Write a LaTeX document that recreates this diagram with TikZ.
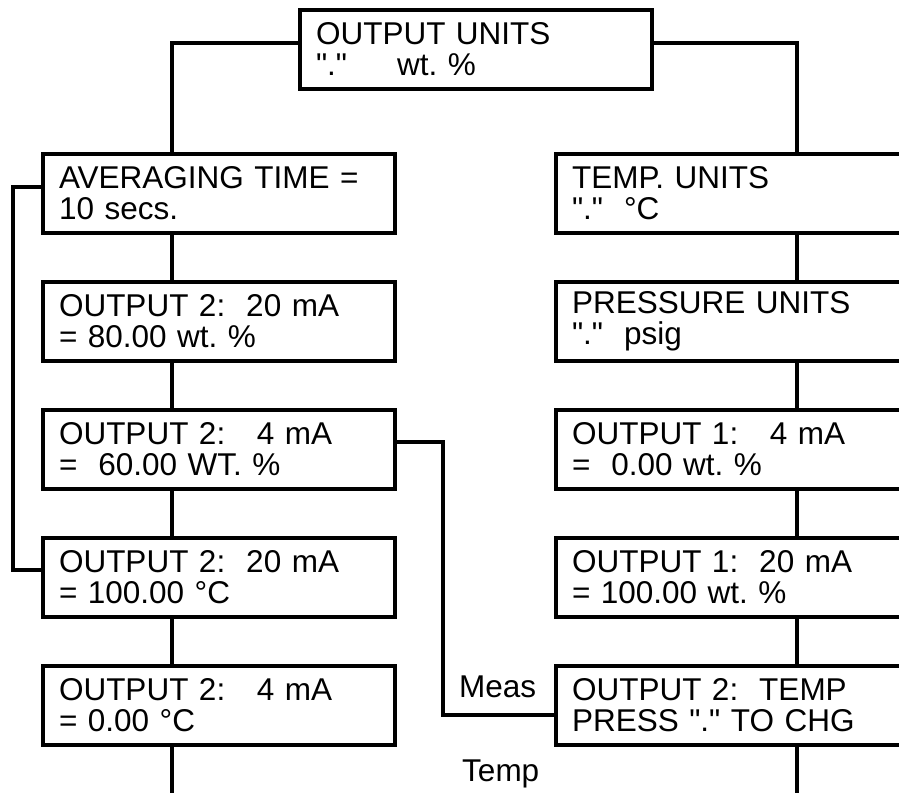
\documentclass[tikz,border=0pt]{standalone}
\usepackage{fontspec}
\setmainfont{Liberation Sans}[Ligatures=TeXOff]
\usetikzlibrary{positioning}
\frenchspacing

\begin{document}
\begin{tikzpicture}[x=1pt,y=-1pt,
        node distance=49pt,
        box/.style={draw,line width=4.2pt,text width=320pt,inner xsep=16pt,
          inner ysep=0pt,minimum height=79pt,align=left,outer sep=0pt,
          font=\fontsize{31.5pt}{31pt}\selectfont},
        lbl/.style={inner sep=0pt,font=\fontsize{31.5pt}{31pt}\selectfont},
        link/.style={line width=4.2pt}
      ]
        \useasboundingbox[fill=white] (0,0) rectangle (899,792);
        \clip (0,0) rectangle (899,792);
        \node[box,anchor=north west] (units) at (300,10) {OUTPUT UNITS\\"."\hspace{50pt}wt. \%};
        \node[box,anchor=north west] (avg) at (43,154) {AVERAGING TIME =\\10 secs.};
        \node[box,below=of avg] (lo20) {OUTPUT 2:\ \ 20 mA\\= 80.00 wt. \%};
        \node[box,below=of lo20] (lo4) {OUTPUT 2:\ \ \ 4 mA\\=\ \ 60.00 WT. \%};
        \node[box,below=of lo4] (tmp20) {OUTPUT 2:\ \ 20 mA\\= 100.00 °C};
        \node[box,below=of tmp20] (tmp4) {OUTPUT 2:\ \ \ 4 mA\\= 0.00 °C};
        \node[box,anchor=north west] (tunits) at (556,154) {TEMP. UNITS\\"."\ \ °C};
        \node[box,below=of tunits] (punits) {PRESSURE UNITS\\"."\ \ psig};
        \node[box,below=of punits] (o1lo) {OUTPUT 1:\ \ \ 4 mA\\=\ \ 0.00 wt. \%};
        \node[box,below=of o1lo] (o1hi) {OUTPUT 1:\ \ 20 mA\\= 100.00 wt. \%};
        \node[box,below=of o1hi] (o2sel) {OUTPUT 2:\ \ TEMP\\PRESS "." TO CHG};
        \node[lbl,anchor=base west] (meas) at (459,697) {Meas};
        \node[lbl,anchor=base west] (temp) at (462,781) {Temp};
        \coordinate (lend) at (172,800);
        \coordinate (rend) at (797,800);
        \draw[link] ([yshift=6.5pt]units.west) -| ([xshift=-47pt]avg.north);
        \draw[link] ([yshift=6.5pt]units.east) -| ([xshift=65pt]tunits.north);
        \foreach \a/\b in {avg/lo20,lo20/lo4,lo4/tmp20,tmp20/tmp4}
          \draw[link] ([xshift=-47pt]\a.south) -- ([xshift=-47pt]\b.north);
        \foreach \a/\b in {tunits/punits,punits/o1lo,o1lo/o1hi,o1hi/o2sel}
          \draw[link] ([xshift=65pt]\a.south) -- ([xshift=65pt]\b.north);
        \draw[link] ([xshift=-47pt]tmp4.south) -- (lend);
        \draw[link] ([xshift=65pt]o2sel.south) -- (rend);
        \draw[link] ([yshift=6.5pt]avg.west) -- ++(-30pt,0) |- ([yshift=7.5pt]tmp20.west);
        \draw[link] ([yshift=7.5pt]lo4.east) -- ++(48pt,0) |- ([yshift=-9.5pt]o2sel.west);
      \end{tikzpicture}
\end{document}
